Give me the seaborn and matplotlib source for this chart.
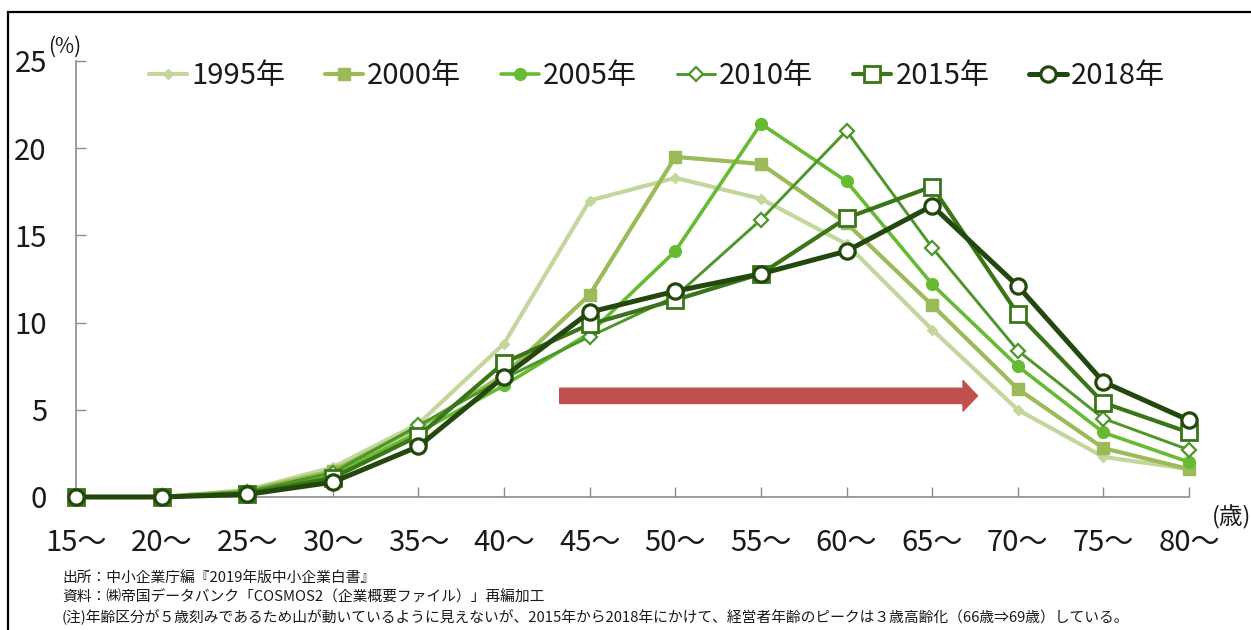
import matplotlib
matplotlib.use("Agg")
import matplotlib.pyplot as plt
import seaborn as sns
import pandas as pd
from matplotlib.patches import Rectangle

# Age brackets of business owners and share (%) per survey year
age_labels = ["15～", "20～", "25～", "30～", "35～", "40～", "45～",
              "50～", "55～", "60～", "65～", "70～", "75～", "80～"]
y1995 = [0.0, 0.0, 0.4, 1.7, 4.2, 8.8, 17.0, 18.3, 17.1, 14.5, 9.6, 5.0, 2.3, 1.6]
y2000 = [0.0, 0.0, 0.35, 1.5, 4.0, 7.0, 11.6, 19.5, 19.1, 15.7, 11.0, 6.2, 2.8, 1.6]
y2005 = [0.0, 0.0, 0.3, 1.3, 3.7, 6.4, 9.4, 14.1, 21.4, 18.1, 12.2, 7.5, 3.7, 2.0]
y2010 = [0.0, 0.0, 0.3, 1.4, 4.1, 6.8, 9.2, 11.5, 15.9, 21.0, 14.3, 8.4, 4.5, 2.7]
y2015 = [0.0, 0.0, 0.2, 1.1, 3.5, 7.7, 9.9, 11.3, 12.8, 16.0, 17.8, 10.5, 5.4, 3.7]
y2018 = [0.0, 0.0, 0.15, 0.85, 2.9, 6.9, 10.6, 11.8, 12.8, 14.1, 16.7, 12.1, 6.6, 4.4]
series_names = ["1995年", "2000年", "2005年", "2010年", "2015年", "2018年"]
y_ticks = [0, 5, 10, 15, 20, 25]

notes = [
    "出所：中小企業庁編『2019年版中小企業白書』",
    "資料：㈱帝国データバンク「COSMOS2（企業概要ファイル）」再編加工",
    "(注)年齢区分が５歳刻みであるため山が動いているように見えないが、2015年から2018年にかけて、"
    "経営者年齢のピークは３歳高齢化（66歳⇒69歳）している。",
]

sns.set_theme(style="white")
plt.rcParams["font.family"] = ["Noto Sans CJK JP", "DejaVu Sans"]

W, H = 1251, 630
fig = plt.figure(figsize=(W / 100, H / 100), dpi=100)
ax = fig.add_axes([76 / W, 1 - 497 / H, (1189 - 76) / W, (497 - 61) / H])

styles = [
    dict(color="#C3D69B", marker="D", lw=3.0, ms=5.5, mfc="#C3D69B", mec="#C3D69B", mew=1.0),
    dict(color="#9BBB59", marker="s", lw=3.0, ms=8.5, mfc="#9BBB59", mec="#9BBB59", mew=1.0),
    dict(color="#66BB33", marker="o", lw=2.6, ms=8.5, mfc="#66BB33", mec="#66BB33", mew=1.0),
    dict(color="#4E962A", marker="D", lw=2.1, ms=7.5, mfc="white", mec="#4E962A", mew=1.6),
    dict(color="#3A7518", marker="s", lw=3.0, ms=11, mfc="white", mec="#3A7518", mew=2.0),
    dict(color="#23480D", marker="o", lw=3.6, ms=11, mfc="white", mec="#23480D", mew=2.3),
]

all_series = [y1995, y2000, y2005, y2010, y2015, y2018]
for i, (name, vals, st) in enumerate(zip(series_names, all_series, styles)):
    df = pd.DataFrame({"x": range(len(age_labels)), "y": vals})
    sns.lineplot(data=df, x="x", y="y", ax=ax, color=st["color"], marker=st["marker"],
                 linewidth=st["lw"], markersize=st["ms"], markerfacecolor=st["mfc"],
                 markeredgecolor=st["mec"], markeredgewidth=st["mew"], label=name,
                 zorder=3 + i, clip_on=False)

ax.set_xlim(0, len(age_labels) - 1)
ax.set_ylim(0, 25)
ax.set_xticks(range(len(age_labels)))
ax.set_xticklabels(age_labels)
ax.set_yticks(y_ticks)
ax.set_yticklabels([str(t) for t in y_ticks])
ax.set_xlabel("")
ax.set_ylabel("")

for side in ["top", "right"]:
    ax.spines[side].set_visible(False)
for side in ["left", "bottom"]:
    ax.spines[side].set_color("#8C8C8C")
    ax.spines[side].set_linewidth(1.2)

ax.tick_params(axis="both", direction="in", length=7.5, width=1.0, color="#8C8C8C",
               labelsize=21, labelcolor="#1A1A1A")
ax.tick_params(axis="y", pad=21)
ax.tick_params(axis="x", pad=22)
ax.xaxis.set_ticks_position("bottom")
ax.yaxis.set_ticks_position("left")

# Shift-to-the-right arrow
ax.annotate("", xy=(10.53, 5.8), xytext=(5.65, 5.8),
            arrowprops=dict(arrowstyle="simple,head_width=2.0,head_length=0.95,tail_width=1.0",
                            color="#C0504D", mutation_scale=11, shrinkA=0, shrinkB=0),
            zorder=2)

# Legend across the top
handles, labels = ax.get_legend_handles_labels()
ax.get_legend().remove()
fig.legend(handles, labels, ncol=6, loc="center left",
           bbox_to_anchor=(149 / W, 1 - 76 / H), frameon=False,
           fontsize=21, handlelength=1.3, handletextpad=0.15, columnspacing=1.36,
           borderpad=0, borderaxespad=0, labelcolor="#1A1A1A")

# Unit labels
fig.text(48 / W, 1 - 47 / H, "(%)", fontsize=15, color="#1A1A1A", ha="left", va="center")
fig.text(1212 / W, 1 - 517 / H, "(歳)", fontsize=17, color="#1A1A1A", ha="left", va="center")

# Source and notes
for k, line in enumerate(notes):
    fig.text(62 / W, 1 - (578 + 19.5 * k) / H, line, fontsize=10.65, color="#1A1A1A",
             ha="left", va="center")

# Outer frame
fig.patches.append(Rectangle((8 / W, -0.2), 1.5, 1.2 - 12 / H, transform=fig.transFigure,
                             fill=False, edgecolor="black", linewidth=1.6, zorder=10))

fig.savefig("out.png", dpi=100)
